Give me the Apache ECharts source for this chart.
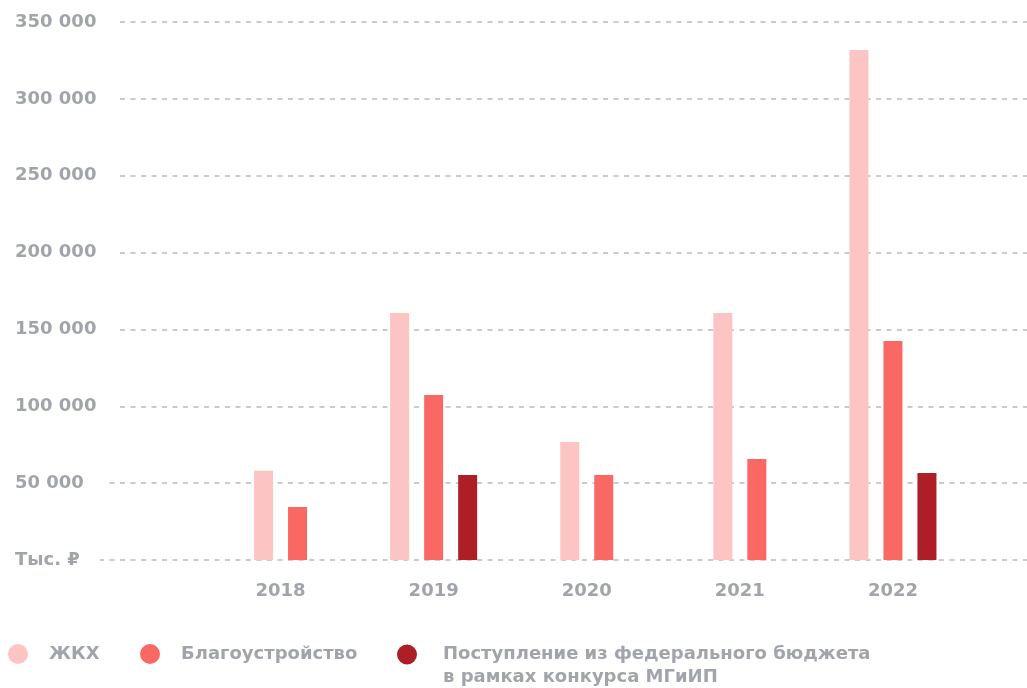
<!DOCTYPE html>
<html>
<head>
<meta charset="utf-8">
<script src="https://cdn.jsdelivr.net/npm/echarts@6/dist/echarts.min.js"></script>
<style>
html,body{margin:0;padding:0;background:#fff;}
#chart{width:1027px;height:688px;}
</style>
</head>
<body>
<div id="chart"></div>
<script>
const years = ['2018', '2019', '2020', '2021', '2022'];
const zhkh = [58000, 160700, 76800, 160700, 331800];
const blago = [34500, 107300, 55300, 65700, 142500];
const federal = [null, 55300, null, null, 56600];
const seriesNames = ['ЖКХ', 'Благоустройство', 'Поступление из федерального бюджета\nв рамках конкурса МГиИП'];
const yTicks = [0, 50000, 100000, 150000, 200000, 250000, 300000, 350000];
const zeroLabel = 'Тыс. ₽';

const colors = ['#FCC5C4', '#FA6864', '#AD1E27'];
const textGrey = '#a1a5ab';
const FONT = '"DejaVu Sans", sans-serif';
const allSeries = [zhkh, blago, federal];
const BAR_W = 19, PITCH = 34;

function fmt(v) {
  if (v === 0) return zeroLabel;
  return String(v).replace(/\B(?=(\d{3})+(?!\d))/g, ' ');
}

function makeRender(s) {
  return function (params, api) {
    const i = api.value(0);
    const v = api.value(1);
    if (v == null || isNaN(v)) return null;
    const present = [];
    allSeries.forEach((arr, j) => { if (arr[i] != null) present.push(j); });
    const k = present.indexOf(s);
    const n = present.length;
    const top = api.coord([i, v]);
    const base = api.coord([i, 0]);
    const cx = top[0] + (k - (n - 1) / 2) * PITCH;
    return {
      type: 'rect',
      shape: { x: cx - BAR_W / 2, y: top[1], width: BAR_W, height: base[1] - top[1] },
      style: { fill: colors[s] }
    };
  };
}

const chart = echarts.init(document.getElementById('chart'), null, { renderer: 'canvas' });

const legendBase = {
  orient: 'horizontal',
  top: 639,
  itemWidth: 20,
  itemHeight: 20,
  icon: 'circle',
  selectedMode: false,
  textStyle: { color: textGrey, fontSize: 18, fontWeight: 'bold', fontFamily: FONT, padding: [0, 0, 0, 16] }
};

chart.setOption({
  animation: false,
  backgroundColor: '#fff',
  legend: [
    Object.assign({}, legendBase, { left: 3, data: [seriesNames[0]] }),
    Object.assign({}, legendBase, { left: 135, data: [seriesNames[1]] }),
    Object.assign({}, legendBase, {
      left: 392,
      top: 615,
      data: [seriesNames[2]],
      formatter: name => '\n' + name,
      textStyle: { color: textGrey, fontSize: 18, fontWeight: 'bold', fontFamily: FONT, lineHeight: 23, align: 'left', padding: [0, 0, 0, 21] }
    })
  ],
  grid: [
    { left: 15, right: 0, top: 22, bottom: 128 },
    { left: 204, right: 57.5, top: 22, bottom: 128 }
  ],
  xAxis: [
    { type: 'value', gridIndex: 0, show: false, min: 0, max: 1 },
    {
      type: 'category', gridIndex: 1, data: years,
      axisLine: { show: false }, axisTick: { show: false },
      axisLabel: { color: textGrey, fontSize: 18, fontWeight: 'bold', fontFamily: FONT, margin: 22 }
    }
  ],
  yAxis: [
    {
      type: 'value', gridIndex: 0, min: 0, max: 350000, interval: 50000, z: 0,
      axisLine: { show: false }, axisTick: { show: false }, axisLabel: { show: false },
      splitLine: { show: true, lineStyle: { color: '#bababa', width: 1.5, type: [5, 5.5] } }
    },
    {
      type: 'value', gridIndex: 0, min: 0, max: 350000, interval: 50000, z: 5, position: 'left',
      axisLine: { show: false }, axisTick: { show: false }, splitLine: { show: false },
      axisLabel: {
        inside: true, margin: 0, color: textGrey, fontSize: 18, fontWeight: 'bold', fontFamily: FONT,
        backgroundColor: '#fff', padding: [3, 20, 3, 0],
        formatter: fmt
      }
    },
    {
      type: 'value', gridIndex: 1, min: 0, max: 350000, interval: 50000, show: false,
      splitLine: { show: false }
    }
  ],
  series: allSeries.map((arr, s) => ({
    type: 'custom',
    name: seriesNames[s],
    xAxisIndex: 1,
    yAxisIndex: 2,
    itemStyle: { color: colors[s] },
    renderItem: makeRender(s),
    encode: { x: 0, y: 1 },
    data: arr.map((v, i) => [i, v]).filter(d => d[1] != null)
  }))
});
</script>
</body>
</html>
